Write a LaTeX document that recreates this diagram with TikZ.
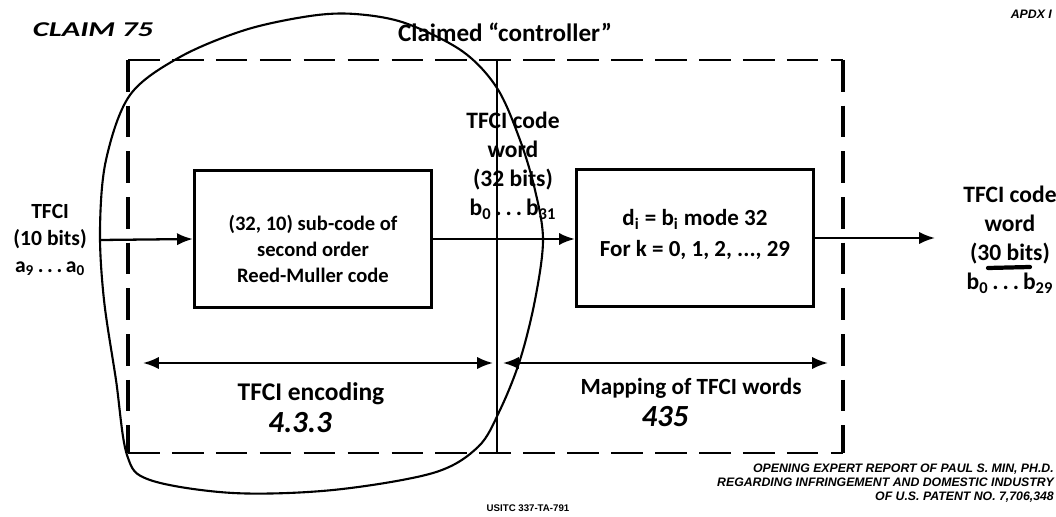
\documentclass[tikz,border=0pt]{standalone}
\usepackage{fontspec}
\setmainfont{Carlito}
\newfontfamily\footfont{Liberation Sans}
\usetikzlibrary{positioning,arrows.meta}
\tikzset{
    node distance=2cm, % default spacing for relative placement
    }

\begin{document}
\begin{tikzpicture}[x=0.02cm, y=-0.02cm,
codebox/.style={rectangle, draw=black, line width=1.6pt, minimum width=4.75cm, minimum height=2.74cm, align=center},
labelnode/.style={align=center, font=\bfseries\fontsize{13.4}{16.5}\selectfont},
handnote/.style={font=\fontsize{17.5}{18}\selectfont\bfseries\itshape},
flow/.style={line width=1.3pt, -{Latex[length=9pt,width=7pt]}},
span/.style={line width=1.3pt, {Latex[length=9pt,width=7pt]}-{Latex[length=9pt,width=7pt]}},
boxedge/.style={line width=2.2pt, dash pattern=on 18pt off 8pt},
boxtop/.style={line width=1.2pt, dash pattern=on 18pt off 7pt},
penline/.style={line width=1.2pt, line cap=round, line join=round},
]
\useasboundingbox (0,0) rectangle (1056,517);

% dashed outline of the claimed controller
\coordinate (nw) at (128,60);
\coordinate (ne) at (843,60);
\coordinate (se) at (843,453);
\coordinate (sw) at (128,453);
\draw[boxtop] (nw) -- (ne);
\draw[boxtop] (sw) -- (se);
\draw[boxedge] (nw) -- (sw);
\draw[boxedge] (ne) -- (se);
\coordinate (ctrltop) at (497,60);
\coordinate (ctrlbot) at (497,453);
\draw[line width=0.8pt] (ctrltop) -- (ctrlbot);
\node[labelnode, font=\bfseries\fontsize{14.3}{16}\selectfont] (claimed) at (505,32) {Claimed “controller”};

% blocks
\node[codebox, font=\bfseries\fontsize{11.7}{15}\selectfont] (subcode) at (313,239) {\rule{0pt}{20pt}(32, 10) sub-code of\\second order\\Reed-Muller code};
\node[codebox, font=\bfseries\fontsize{13.1}{17.5}\selectfont] (mapping) at (695,238) {d\textsubscript{i} = b\textsubscript{i} mode 32\\For k = 0, 1, 2, ..., 29\rule[-6pt]{0pt}{0pt}};

% signal path
\coordinate (tfciin) at (100,240);
\coordinate (tfciout) at (935,238);
\node[labelnode, font=\bfseries\fontsize{12.3}{15.3}\selectfont] (inlabel) [left=4pt of tfciin] {TFCI\\(10 bits)\\a\textsubscript{9}\,.\,.\,.\,a\textsubscript{0}};
\node[labelnode] (cwlabel) at (513,166) {TFCI code\\word\\(32 bits)\\b\textsubscript{0}\,.\,.\,.\,b\textsubscript{31}};
\node[labelnode] (outlabel) at (1010,240) {TFCI code\\word\\(30 bits)\\b\textsubscript{0}\,.\,.\,.\,b\textsubscript{29}};
\draw[flow] (tfciin) -- (subcode.west);
\draw[flow] (subcode.east) -- (subcode.east -| mapping.west);
\draw[flow] (mapping.east) -- (tfciout);
\draw[line width=2.4pt, line cap=round] (988,268) -- (1030,267);

% extent of the two stages
\coordinate (encL) at (143,363);
\coordinate (encR) at (493,363);
\coordinate (mapL) at (503,363);
\coordinate (mapR) at (828,363);
\draw[span] (encL) -- (encR);
\draw[span] (mapL) -- (mapR);
\node[labelnode, font=\bfseries\fontsize{14.5}{16}\selectfont] (enclabel) at (311,394) {TFCI encoding};
\node[handnote] (encnum) at (300,423) {4.3.3};
\node[labelnode, font=\bfseries\fontsize{13.2}{16}\selectfont] (maplabel) at (691,388) {Mapping of TFCI words};
\node[handnote] (mapnum) at (665,417) {435};

% hand-drawn marks
\node[font=\fontsize{12}{12}\selectfont\bfseries\itshape] (claim) at (93,30) {\scalebox{1.45}[1]{CLAIM 75}};
\draw[penline] plot[smooth cycle, tension=0.55] coordinates {(127,455) (116,380) (104,300) (100,230) (106,160) (130,95) (180,57) (245,30) (310,16) (355,14) (405,23) (462,51) (497,88) (520,140) (535,190) (543,240) (535,300) (520,360) (500,410) (478,447) (433,473) (333,490) (233,493) (150,480)};

% page furniture
\node[font=\footfont\bfseries\itshape\fontsize{7}{7.9}\selectfont, align=right, anchor=north east] (report) at (1060,458) {OPENING EXPERT REPORT OF PAUL S. MIN, PH.D.\\REGARDING INFRINGEMENT AND DOMESTIC INDUSTRY\\OF U.S. PATENT NO. 7,706,348};
\node[font=\footfont\bfseries\fontsize{5.5}{6}\selectfont] (docket) at (528,508) {USITC 337-TA-791};
\node[font=\footfont\bfseries\itshape\fontsize{7}{7}\selectfont, anchor=east] (apdx) at (1058,14) {APDX I};
\end{tikzpicture}
\end{document}
